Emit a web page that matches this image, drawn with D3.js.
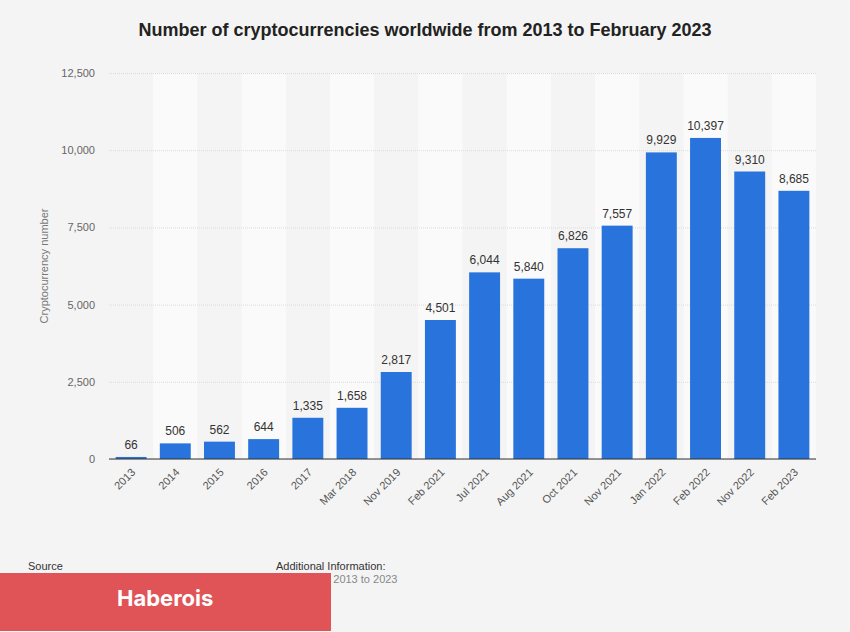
<!DOCTYPE html>
<meta charset="utf-8">
<style>
body { margin: 0; background: #f4f4f4; font-family: "Liberation Sans", Arial, sans-serif; }
.axis .domain { display: none; }
.axis line { stroke: #dcdcdc; stroke-dasharray: 1,1; }
.axis text { fill: #666; font-size: 11px; }
</style>
<body>
<script src="https://cdn.jsdelivr.net/npm/d3@7"></script>
<script>
var categories = ['2013', '2014', '2015', '2016', '2017', 'Mar 2018', 'Nov 2019', 'Feb 2021', 'Jul 2021', 'Aug 2021', 'Oct 2021', 'Nov 2021', 'Jan 2022', 'Feb 2022', 'Nov 2022', 'Feb 2023']
var values = [66, 506, 562, 644, 1335, 1658, 2817, 4501, 6044, 5840, 6826, 7557, 9929, 10397, 9310, 8685]
var yTicks = [0, 2500, 5000, 7500, 10000, 12500]

var W = 850, H = 632
var plotLeft = 109, plotRight = 816, plotTop = 73, plotBottom = 459

var svg = d3.select('body').append('svg').attr('width', W).attr('height', H)
svg.append('rect').attr('width', W).attr('height', H).attr('fill', '#f4f4f4')

svg.append('text').attr('x', 425).attr('y', 36).attr('text-anchor', 'middle')
    .style('font-size', '18px').style('font-weight', 'bold').attr('fill', '#222')
    .text('Number of cryptocurrencies worldwide from 2013 to February 2023')

var x = d3.scaleBand().domain(categories).range([plotLeft, plotRight]).paddingInner(0.3).paddingOuter(0.15)
var y = d3.scaleLinear().domain([0, 12500]).range([plotBottom, plotTop])
var step = x.step()

// alternating stripes
svg.selectAll('.stripe').data(categories.filter(function (d, i) { return i % 2 === 1 }))
    .enter().append('rect')
    .attr('x', function (d) { return x(d) - step * x.paddingInner() / 2 })
    .attr('width', step).attr('y', plotTop).attr('height', plotBottom - plotTop)
    .attr('fill', '#fafafa')

svg.append('g').attr('class', 'axis').attr('transform', 'translate(' + plotLeft + ',0)')
    .call(d3.axisLeft(y).tickValues(yTicks).tickSize(-(plotRight - plotLeft)).tickPadding(14)
        .tickFormat(d3.format(',')))

svg.append('text').attr('transform', 'translate(48,266) rotate(-90)')
    .attr('text-anchor', 'middle').style('font-size', '11px').attr('fill', '#777')
    .text('Cryptocurrency number')

svg.selectAll('.bar').data(values).enter().append('rect')
    .attr('x', function (d, i) { return x(categories[i]) })
    .attr('width', x.bandwidth())
    .attr('y', function (d) { return y(d) })
    .attr('height', function (d) { return plotBottom - y(d) })
    .attr('fill', '#2874dc')

svg.selectAll('.lbl').data(values).enter().append('text')
    .attr('x', function (d, i) { return x(categories[i]) + x.bandwidth() / 2 })
    .attr('y', function (d) { return y(d) - 8 })
    .attr('text-anchor', 'middle').style('font-size', '12px').attr('fill', '#333')
    .text(d3.format(','))

svg.append('line').attr('x1', plotLeft).attr('x2', plotRight).attr('y1', plotBottom).attr('y2', plotBottom)
    .attr('stroke', '#333').attr('stroke-width', 1.2)

svg.selectAll('.xl').data(categories).enter().append('text')
    .attr('transform', function (d) {
        return 'translate(' + (x(d) + x.bandwidth() / 2 + 5) + ',' + (plotBottom + 14) + ') rotate(-45)'
    })
    .attr('text-anchor', 'end').style('font-size', '11px').attr('fill', '#555')
    .text(function (d) { return d })

// footer
svg.append('text').attr('x', 28).attr('y', 570).style('font-size', '11px').attr('fill', '#333').text('Source')
svg.append('text').attr('x', 28).attr('y', 583).style('font-size', '11px').attr('fill', '#d04848').text('CoinMarketCap')
svg.append('text').attr('x', 28).attr('y', 596).style('font-size', '11px').attr('fill', '#d04848').text('© Statista 2023')
svg.append('text').attr('x', 276).attr('y', 570).style('font-size', '11px').attr('fill', '#333').text('Additional Information:')
svg.append('text').attr('x', 276).attr('y', 583).style('font-size', '11px').attr('fill', '#888').text('Worldwide; 2013 to 2023')

svg.append('rect').attr('x', 0).attr('y', 573).attr('width', 331).attr('height', 58).attr('fill', '#e05457')
svg.append('text').attr('x', 117).attr('y', 606).style('font-size', '22px').style('font-weight', 'bold')
    .style('font-family', 'Inter, sans-serif').attr('fill', '#fff').text('Haberois')
</script>
</body>
